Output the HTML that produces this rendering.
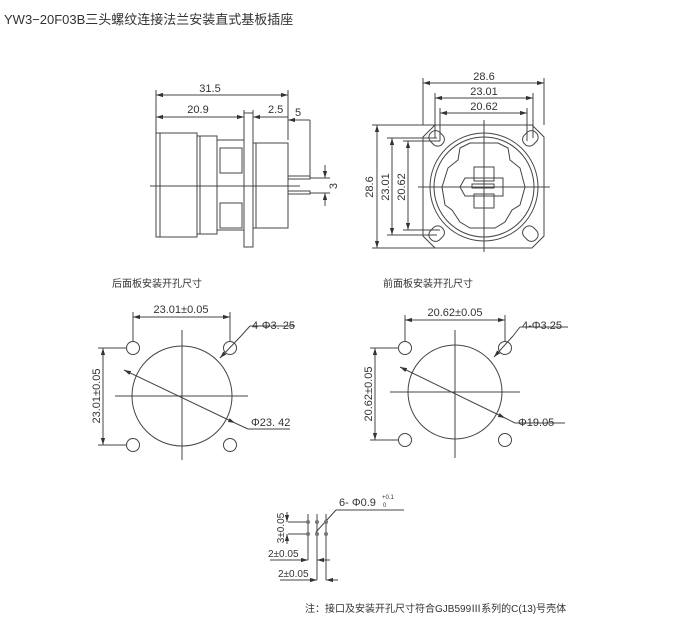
<!DOCTYPE html>
<html><head><meta charset="utf-8"><style>
html,body{margin:0;padding:0;background:#fff;}
svg{display:block;}
text{font-family:"Liberation Sans","Noto Sans CJK SC",sans-serif;fill:#333;}
</style></head><body>
<svg width="700" height="638" viewBox="0 0 700 638" xmlns="http://www.w3.org/2000/svg">
<defs>
<marker id="a" viewBox="0 0 10 10" refX="10" refY="5" markerWidth="7" markerHeight="7" orient="auto-start-reverse"><path d="M0,2 L10,5 L0,8z" fill="#333"/></marker>
</defs>
<text x="4" y="24" font-size="13">YW3−20F03B三头螺纹连接法兰安装直式基板插座</text>
<g stroke="#444" stroke-width="1" fill="none">
<!-- left view -->
<line x1="156" y1="95" x2="288" y2="95" marker-start="url(#a)" marker-end="url(#a)"/>
<line x1="156" y1="117" x2="244" y2="117" marker-start="url(#a)" marker-end="url(#a)"/>
<line x1="156" y1="90" x2="156" y2="135"/>
<line x1="288" y1="90" x2="288" y2="140"/>
<line x1="244" y1="110" x2="244" y2="113"/>
<line x1="253" y1="110" x2="253" y2="113"/>
<line x1="253" y1="117" x2="288" y2="117" marker-start="url(#a)"/>
<line x1="288" y1="120" x2="310" y2="120"/>
<line x1="310" y1="120" x2="310" y2="178"/>
<line x1="288" y1="120" x2="300" y2="120" marker-start="url(#a)"/>
<rect x="156" y="133" width="41" height="104"/>
<line x1="160" y1="133" x2="160" y2="237"/>
<rect x="197" y="136" width="20" height="98"/>
<line x1="200" y1="136" x2="200" y2="234"/>
<rect x="217" y="140" width="27" height="90"/>
<rect x="220" y="148" width="22" height="25"/>
<rect x="220" y="203" width="22" height="25"/>
<rect x="244" y="113" width="9" height="134"/>
<rect x="253" y="143" width="35" height="85"/>
<line x1="256" y1="143" x2="256" y2="228"/>
<rect x="288" y="176" width="22" height="3"/>
<rect x="288" y="191" width="22" height="3"/>
<line x1="150" y1="186" x2="300" y2="186"/>
<line x1="310" y1="178" x2="330" y2="178"/>
<line x1="310" y1="193" x2="330" y2="193"/>
<line x1="325" y1="165" x2="325" y2="178" marker-end="url(#a)"/>
<line x1="325" y1="206" x2="325" y2="193" marker-end="url(#a)"/>
<!-- right view -->
<path d="M435,125 L532,125 L544,137 L544,236 L532,248 L435,248 L423,236 L423,137 Z"/>
<circle cx="484" cy="187" r="54"/>
<circle cx="484" cy="187" r="50"/>
<path d="M460,148 L470,143 L498,143 L508,148 L510,160 L520,168 L525,187 L520,205 L512,210 L505,222 L495,228 L470,228 L460,222 L452,210 L445,205 L442,187 L448,168 L458,160 Z"/>
<rect x="474" y="167" width="20" height="14"/>
<rect x="474" y="194" width="20" height="14"/>
<path d="M465,178 L503,178 L503,196 L465,196 L460,187 Z"/>
<rect x="472" y="184" width="22" height="4"/>
<line x1="484" y1="120" x2="484" y2="252"/>
<line x1="418" y1="187" x2="550" y2="187"/>
<rect x="430" y="130" width="13" height="16" rx="6" transform="rotate(-45 437 138)"/>
<rect x="524" y="130" width="13" height="16" rx="6" transform="rotate(45 530 138)"/>
<rect x="430" y="226" width="13" height="16" rx="6" transform="rotate(45 437 234)"/>
<rect x="524" y="226" width="13" height="16" rx="6" transform="rotate(-45 530 234)"/>
<line x1="423" y1="83" x2="544" y2="83" marker-start="url(#a)" marker-end="url(#a)"/>
<line x1="435" y1="98" x2="533" y2="98" marker-start="url(#a)" marker-end="url(#a)"/>
<line x1="440" y1="113" x2="527" y2="113" marker-start="url(#a)" marker-end="url(#a)"/>
<line x1="423" y1="78" x2="423" y2="125"/><line x1="544" y1="78" x2="544" y2="125"/>
<line x1="435" y1="93" x2="435" y2="138"/><line x1="533" y1="93" x2="533" y2="138"/>
<line x1="440" y1="108" x2="440" y2="141"/><line x1="527" y1="108" x2="527" y2="141"/>
<line x1="377" y1="125" x2="377" y2="248" marker-start="url(#a)" marker-end="url(#a)"/>
<line x1="392" y1="138" x2="392" y2="235" marker-start="url(#a)" marker-end="url(#a)"/>
<line x1="408" y1="141" x2="408" y2="230" marker-start="url(#a)" marker-end="url(#a)"/>
<line x1="372" y1="125" x2="435" y2="125"/><line x1="372" y1="248" x2="435" y2="248"/>
<line x1="387" y1="138" x2="437" y2="138"/><line x1="387" y1="235" x2="437" y2="235"/>
<line x1="403" y1="141" x2="440" y2="141"/><line x1="403" y1="230" x2="440" y2="230"/>
<!-- bottom left -->
<circle cx="182" cy="396" r="50"/>
<circle cx="133" cy="348" r="6.5"/><circle cx="230" cy="348" r="6.5"/>
<circle cx="133" cy="445" r="6.5"/><circle cx="230" cy="445" r="6.5"/>
<line x1="182" y1="330" x2="182" y2="460"/>
<line x1="115" y1="396" x2="248" y2="396"/>
<line x1="133" y1="317" x2="230" y2="317" marker-start="url(#a)" marker-end="url(#a)"/>
<line x1="133" y1="312" x2="133" y2="341"/><line x1="230" y1="312" x2="230" y2="341"/>
<line x1="103" y1="348" x2="103" y2="445" marker-start="url(#a)" marker-end="url(#a)"/>
<line x1="98" y1="348" x2="126" y2="348"/><line x1="98" y1="445" x2="126" y2="445"/>
<line x1="124" y1="370" x2="235" y2="423" marker-start="url(#a)" marker-end="url(#a)"/>
<line x1="235" y1="423" x2="248" y2="429"/><line x1="248" y1="429" x2="290" y2="429"/>
<line x1="220" y1="358" x2="241" y2="336" marker-start="url(#a)"/>
<line x1="241" y1="336" x2="250" y2="326"/><line x1="250" y1="326" x2="295" y2="326"/>
<!-- bottom right -->
<circle cx="455" cy="392" r="47"/>
<circle cx="405" cy="348" r="6.5"/><circle cx="505" cy="348" r="6.5"/>
<circle cx="405" cy="440" r="6.5"/><circle cx="505" cy="440" r="6.5"/>
<line x1="455" y1="330" x2="455" y2="458"/>
<line x1="390" y1="392" x2="520" y2="392"/>
<line x1="405" y1="320" x2="505" y2="320" marker-start="url(#a)" marker-end="url(#a)"/>
<line x1="405" y1="315" x2="405" y2="341"/><line x1="505" y1="315" x2="505" y2="341"/>
<line x1="375" y1="348" x2="375" y2="440" marker-start="url(#a)" marker-end="url(#a)"/>
<line x1="370" y1="348" x2="398" y2="348"/><line x1="370" y1="440" x2="398" y2="440"/>
<line x1="400" y1="367" x2="505" y2="418" marker-start="url(#a)" marker-end="url(#a)"/>
<line x1="505" y1="418" x2="515" y2="423"/><line x1="515" y1="423" x2="565" y2="423"/>
<line x1="494" y1="357" x2="513" y2="336" marker-start="url(#a)"/>
<line x1="513" y1="336" x2="520" y2="327"/><line x1="520" y1="327" x2="568" y2="327"/>
<!-- pin detail -->
<line x1="308" y1="514" x2="308" y2="560"/>
<line x1="317" y1="514" x2="317" y2="580"/>
<line x1="326" y1="514" x2="326" y2="580"/>
<line x1="288" y1="522" x2="310" y2="522"/>
<line x1="288" y1="534" x2="310" y2="534"/>
<line x1="287" y1="512" x2="287" y2="522" marker-end="url(#a)"/>
<line x1="287" y1="544" x2="287" y2="534" marker-end="url(#a)"/>
<line x1="270" y1="560" x2="308" y2="560" marker-end="url(#a)"/>
<line x1="330" y1="560" x2="317" y2="560" marker-end="url(#a)"/>
<line x1="280" y1="580" x2="317" y2="580" marker-end="url(#a)"/>
<line x1="338" y1="580" x2="326" y2="580" marker-end="url(#a)"/>
<line x1="316" y1="532" x2="336" y2="510"/><line x1="336" y1="510" x2="404" y2="510"/>
</g>
<g fill="#777">
<circle cx="308" cy="522" r="2"/><circle cx="317" cy="522" r="2"/><circle cx="326" cy="522" r="2"/>
<circle cx="308" cy="534" r="2"/><circle cx="317" cy="534" r="2"/><circle cx="326" cy="534" r="2"/>
</g>
<g font-size="11">
<text x="210" y="92" text-anchor="middle">31.5</text>
<text x="198" y="113" text-anchor="middle">20.9</text>
<text x="268" y="113">2.5</text>
<text x="295" y="116">5</text>
<text x="333" y="190" transform="rotate(-90 333 186)" text-anchor="middle">3</text>
<text x="484" y="80" text-anchor="middle">28.6</text>
<text x="484" y="95" text-anchor="middle">23.01</text>
<text x="484" y="110" text-anchor="middle">20.62</text>
<text x="373" y="187" transform="rotate(-90 373 187)" text-anchor="middle">28.6</text>
<text x="389" y="187" transform="rotate(-90 389 187)" text-anchor="middle">23.01</text>
<text x="405" y="187" transform="rotate(-90 405 187)" text-anchor="middle">20.62</text>
<text x="112" y="287" font-size="10">后面板安装开孔尺寸</text>
<text x="383" y="287" font-size="10">前面板安装开孔尺寸</text>
<text x="181" y="313" text-anchor="middle">23.01±0.05</text>
<text x="252" y="329">4-Φ3. 25</text>
<text x="100" y="396" transform="rotate(-90 100 396)" text-anchor="middle">23.01±0.05</text>
<text x="251" y="426">Φ23. 42</text>
<text x="455" y="316" text-anchor="middle">20.62±0.05</text>
<text x="522" y="329">4-Φ3.25</text>
<text x="372" y="394" transform="rotate(-90 372 394)" text-anchor="middle">20.62±0.05</text>
<text x="518" y="426">Φ19.05</text>
<text x="339" y="506">6- Φ0.9</text>
<text x="382" y="499" font-size="6">+0.1</text>
<text x="383" y="507" font-size="6">0</text>
<text x="284" y="528" transform="rotate(-90 284 528)" text-anchor="middle" font-size="10">3±0.05</text>
<text x="268" y="557" font-size="10">2±0.05</text>
<text x="278" y="577" font-size="10">2±0.05</text>
<text x="305" y="612" font-size="10">注：接口及安装开孔尺寸符合GJB599Ⅲ系列的C(13)号壳体</text>
</g>
</svg>
</body></html>
